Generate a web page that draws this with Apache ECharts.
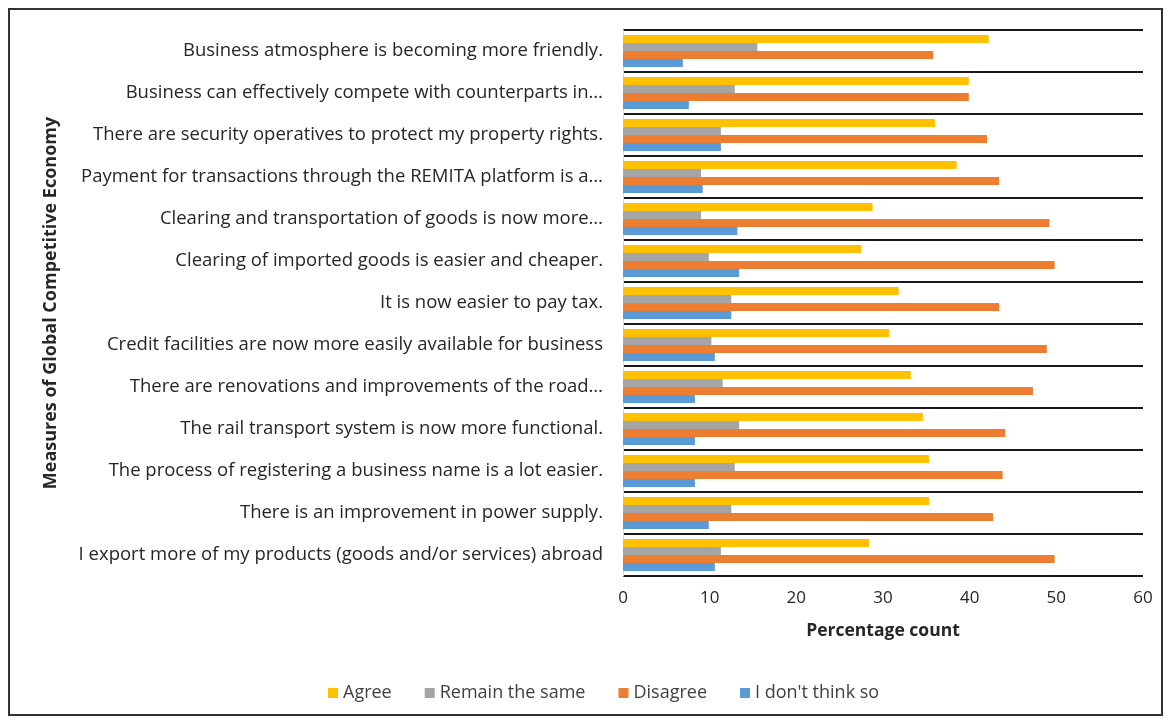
<!DOCTYPE html>
<html><head><meta charset="utf-8">
<script src="https://cdn.jsdelivr.net/npm/echarts@6/dist/echarts.min.js"></script>
<style>
html,body{margin:0;padding:0;background:#fff;}
#c{position:absolute;left:8px;top:8px;width:1155px;height:708px;border:2px solid #333;box-sizing:border-box;}
</style></head>
<body><div id="c"></div>
<script>
const categories = [
  "Business atmosphere is becoming more friendly.",
  "Business can effectively compete with counterparts in…",
  "There are security operatives to protect my property rights.",
  "Payment for transactions through the REMITA platform is a…",
  "Clearing and transportation of goods is now more…",
  "Clearing of imported goods is easier and cheaper.",
  "It is now easier to pay tax.",
  "Credit facilities are now more easily available for business",
  "There are renovations and improvements of the road…",
  "The rail transport system is now more functional.",
  "The process of registering a business name is a lot easier.",
  "There is an improvement in power supply.",
  "I export more of my products (goods and/or services) abroad"
];
const agree        = [42.2, 39.9, 36.0, 38.5, 28.8, 27.5, 31.8, 30.7, 33.2, 34.6, 35.3, 35.3, 28.4];
const remainSame   = [15.5, 12.9, 11.3, 9.0, 9.0, 9.9, 12.5, 10.2, 11.5, 13.4, 12.9, 12.5, 11.3];
const disagree     = [35.8, 39.9, 42.0, 43.4, 49.2, 49.8, 43.4, 48.9, 47.3, 44.1, 43.8, 42.7, 49.8];
const dontThink    = [6.9, 7.6, 11.3, 9.2, 13.2, 13.4, 12.5, 10.6, 8.3, 8.3, 8.3, 9.9, 10.6];
const seriesNames  = ["Agree", "Remain the same", "Disagree", "I don't think so"];
const xTicks = [0, 10, 20, 30, 40, 50, 60];

const colors = ["#FFC000", "#A5A5A5", "#ED7D31", "#5B9BD5"];
const dataSets = [agree, remainSame, disagree, dontThink];
const font = "'Open Sans', 'Noto Sans', sans-serif";

const chart = echarts.init(document.getElementById('c'), null, {renderer: 'canvas'});
chart.setOption({
  animation: false,
  textStyle: {fontFamily: font},
  grid: {left: 613, right: 18, top: 20, bottom: 138, containLabel: false},
  legend: {
    data: seriesNames, bottom: 7, left: 313,
    itemWidth: 10, itemHeight: 10, itemGap: 33,
    icon: 'rect',
    textStyle: {fontSize: 18, color: '#404040', fontFamily: font}
  },
  xAxis: {
    type: 'value', min: xTicks[0], max: xTicks[xTicks.length - 1], interval: 10,
    name: 'Percentage count', nameLocation: 'middle', nameGap: 46,
    nameTextStyle: {fontSize: 17.5, fontWeight: 'bold', color: '#262626'},
    axisLine: {show: false}, axisTick: {show: false},
    splitLine: {show: false},
    axisLabel: {fontSize: 17, color: '#262626', margin: 14}
  },
  yAxis: {
    type: 'category', data: categories, inverse: true,
    name: 'Measures of Global Competitive Economy', nameLocation: 'middle',
    nameRotate: 90, nameGap: 563,
    nameTextStyle: {fontSize: 18, fontWeight: 'bold', color: '#262626'},
    axisLine: {show: true, lineStyle: {color: '#d9d9d9', width: 1}},
    axisTick: {show: false},
    splitLine: {show: true, lineStyle: {color: '#1a1a1a', width: 2}},
    axisLabel: {fontSize: 18.5, color: '#262626', margin: 20}
  },
  series: dataSets.map((d, i) => ({
    name: seriesNames[i], type: 'bar', data: d,
    itemStyle: {color: colors[i]},
    barGap: '0%', barCategoryGap: '24%'
  }))
});
</script></body></html>
